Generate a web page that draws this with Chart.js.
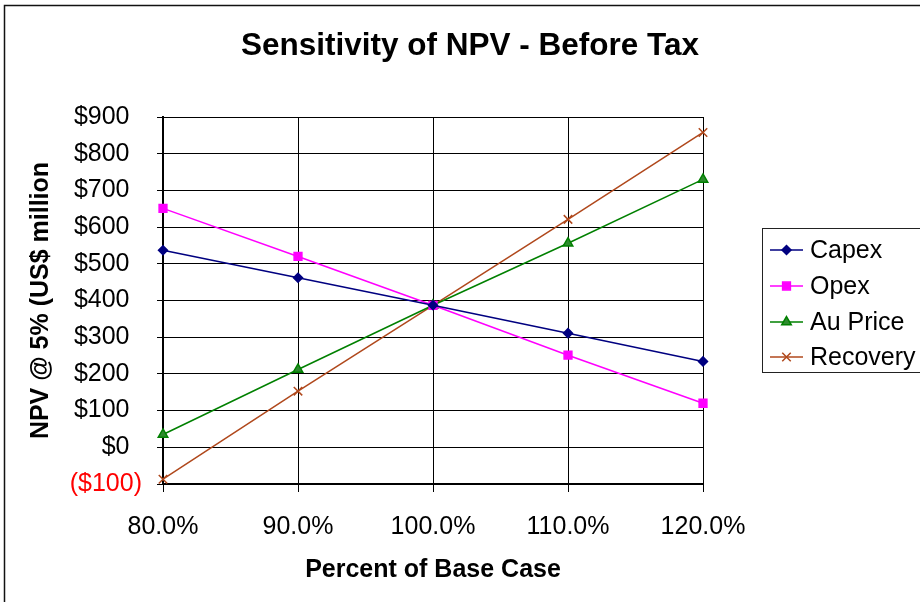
<!DOCTYPE html>
<html>
<head>
<meta charset="utf-8">
<script src="https://cdn.jsdelivr.net/npm/chart.js@4.4.1/dist/chart.umd.min.js"></script>
<style>
  html, body { margin: 0; padding: 0; background: #fff; }
  #wrap { width: 920px; height: 602px; position: relative; }
</style>
</head>
<body>
<div id="wrap"><canvas id="npvChart" width="920" height="602"></canvas></div>
<script>
// ---------------------- Data ----------------------
const categories = ["80.0%", "90.0%", "100.0%", "110.0%", "120.0%"];
const capex    = [537, 462, 387, 311, 234];
const opex     = [651, 520, 387, 251, 120];
const auPrice  = [35, 212, 387, 556, 730];
const recovery = [-87, 153, 387, 621, 858];
const yTicks   = { min: -100, max: 900, step: 100 };

const FONT = "'Liberation Sans', Arial, sans-serif";
const FS = 25;

const seriesStyles = [
  { label: "Capex",    data: capex,    color: "#000080", fill: "#000080", style: "rectRot",  radius: 4.5 },
  { label: "Opex",     data: opex,     color: "#ff00ff", fill: "#ff00ff", style: "rect",     radius: 5.5 },
  { label: "Au Price", data: auPrice,  color: "#008000", fill: "#2e8b2e", style: "triangle", radius: 5.5 },
  { label: "Recovery", data: recovery, color: "#b0481c", fill: "#b0481c", style: "crossRot", radius: 6 }
];

function yLabel(v) {
  if (v < 0) return "($" + (-v) + ")";
  return "$" + v + "\u2002";
}

// ---------------------- Plugins ----------------------
const framePlugin = {
  id: "frame",
  beforeDraw(chart) {
    const ctx = chart.ctx;
    ctx.save();
    ctx.fillStyle = "#fff";
    ctx.fillRect(0, 0, chart.width, chart.height);
    ctx.strokeStyle = "#111";
    ctx.lineWidth = 1.5;
    ctx.beginPath();
    ctx.moveTo(4.5, chart.height);
    ctx.lineTo(4.5, 5.5);
    ctx.lineTo(chart.width, 5.5);
    ctx.stroke();

    // title
    ctx.fillStyle = "#000";
    ctx.font = "bold 31.5px " + FONT;
    ctx.textAlign = "center";
    ctx.textBaseline = "middle";
    ctx.fillText("Sensitivity of NPV - Before Tax", 470, 46);
    ctx.restore();
  }
};

const legendPlugin = {
  id: "boxLegend",
  afterDraw(chart) {
    const ctx = chart.ctx;
    ctx.save();
    ctx.strokeStyle = "#222";
    ctx.lineWidth = 1;
    ctx.strokeRect(762.5, 228.5, 170, 144);

    const rows = [250, 286, 322, 357];
    seriesStyles.forEach((s, i) => {
      const y = rows[i];
      ctx.strokeStyle = s.color;
      ctx.lineWidth = 1.5;
      ctx.beginPath();
      ctx.moveTo(770, y);
      ctx.lineTo(803, y);
      ctx.stroke();

      ctx.fillStyle = s.fill;
      ctx.strokeStyle = s.color;
      Chart.helpers.drawPoint(ctx, { pointStyle: s.style, radius: s.radius, borderWidth: 1.5, rotation: 0 }, 786.5, y);

      ctx.fillStyle = "#000";
      ctx.font = FS + "px " + FONT;
      ctx.textAlign = "left";
      ctx.textBaseline = "middle";
      ctx.fillText(s.label, 810, y + 1);
    });
    ctx.restore();
  }
};

// ---------------------- Chart ----------------------
new Chart(document.getElementById("npvChart"), {
  type: "line",
  data: {
    labels: categories,
    datasets: seriesStyles.map(s => ({
      label: s.label,
      data: s.data,
      borderColor: s.color,
      backgroundColor: s.fill,
      borderWidth: 1.5,
      pointStyle: s.style,
      pointRadius: s.radius,
      pointHoverRadius: s.radius,
      pointBorderColor: s.color,
      pointBackgroundColor: s.fill,
      pointBorderWidth: 1.5,
      tension: 0,
      clip: false
    }))
  },
  options: {
    responsive: false,
    animation: false,
    events: [],
    layout: { padding: { top: 117, right: 217, left: 0, bottom: 0 } },
    plugins: {
      legend: { display: false },
      title: { display: false },
      tooltip: { enabled: false }
    },
    scales: {
      x: {
        offset: false,
        afterFit(scale) { scale.height = 118; },
        grid: { color: "#000", lineWidth: 1, tickLength: 8, drawTicks: true },
        border: { display: true, color: "#000", width: 2 },
        ticks: {
          color: "#000",
          padding: 20,
          maxRotation: 0,
          autoSkip: false,
          font: { family: FONT, size: FS }
        },
        title: {
          display: true,
          text: "Percent of Base Case",
          color: "#000",
          padding: { top: 0, bottom: 17 },
          font: { family: FONT, size: FS, weight: "bold" }
        }
      },
      y: {
        min: yTicks.min,
        max: yTicks.max,
        afterFit(scale) { scale.width = 163; },
        grid: { color: "#000", lineWidth: 1, tickLength: 6, drawTicks: true },
        border: { display: true, color: "#000", width: 2 },
        ticks: {
          stepSize: yTicks.step,
          padding: 15,
          color: c => (c.tick && c.tick.value < 0 ? "#ff0000" : "#000"),
          font: { family: FONT, size: FS },
          callback: v => yLabel(v)
        },
        title: {
          display: true,
          text: "NPV @ 5% (US$ million",
          color: "#000",
          padding: { top: 26, bottom: 0 },
          font: { family: FONT, size: FS, weight: "bold" }
        }
      }
    }
  },
  plugins: [framePlugin, legendPlugin]
});
</script>
</body>
</html>
